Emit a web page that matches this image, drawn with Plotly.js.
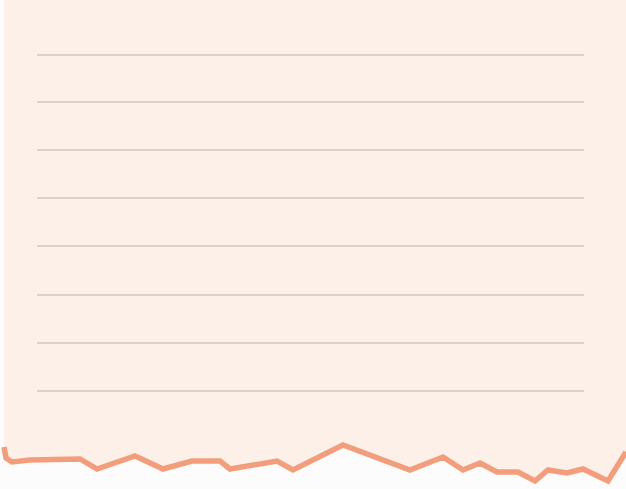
<!DOCTYPE html>
<html>
<head>
<meta charset="utf-8">
<script src="https://cdn.plot.ly/plotly-3.0.1.min.js"></script>
<style>html,body{margin:0;padding:0;background:#fbf9f9;}#chart{width:626px;height:489px;}</style>
</head>
<body>
<div id="chart"></div>
<script>
// Torn bottom edge profile (pixel-space coordinates of the sheet)
var edgeX = [4, 6, 12, 30, 80, 97, 135, 163, 192, 220, 230, 277, 293, 343, 410, 443, 463, 480, 497, 518, 535, 548, 567, 583, 608, 626];
var edgeY = [447, 458, 462, 460, 459, 469, 456, 469, 461, 461, 469, 461, 470, 445, 470, 457, 470, 463, 472, 472, 481, 470, 473, 469, 481, 452];
// Ruled lines
var ruleY = [55, 102, 150, 198, 246, 295, 343, 391];
var ruleStart = 37;
var ruleEnd = 584;

var traces = [];
// Paper sheet: top corners plus the torn edge
var px = [edgeX[0]].concat(edgeX).concat([edgeX[edgeX.length - 1], edgeX[0]]);
var py = [0].concat(edgeY).concat([0, 0]);
traces.push({x: px, y: py, mode: 'lines', fill: 'toself', fillcolor: '#fdf0e9',
  line: {width: 0, color: 'rgba(0,0,0,0)'}, hoverinfo: 'skip', showlegend: false});
// Ruled lines
ruleY.forEach(function (y) {
  traces.push({x: [ruleStart, ruleEnd], y: [y, y], mode: 'lines',
    line: {color: '#b3a8aa', width: 0.9}, hoverinfo: 'skip', showlegend: false});
});
// Orange torn edge
traces.push({x: edgeX, y: edgeY, mode: 'lines',
  line: {color: '#f29e7c', width: 5.5, shape: 'linear'}, hoverinfo: 'skip', showlegend: false});

var layout = {
  width: 626, height: 489,
  margin: {l: 0, r: 0, t: 0, b: 0},
  paper_bgcolor: '#fdfcfc', plot_bgcolor: '#fdfcfc',
  xaxis: {range: [0, 626], visible: false, fixedrange: true},
  yaxis: {range: [489, 0], visible: false, fixedrange: true},
  showlegend: false
};
Plotly.newPlot('chart', traces, layout, {staticPlot: true, displayModeBar: false});
</script>
</body>
</html>
